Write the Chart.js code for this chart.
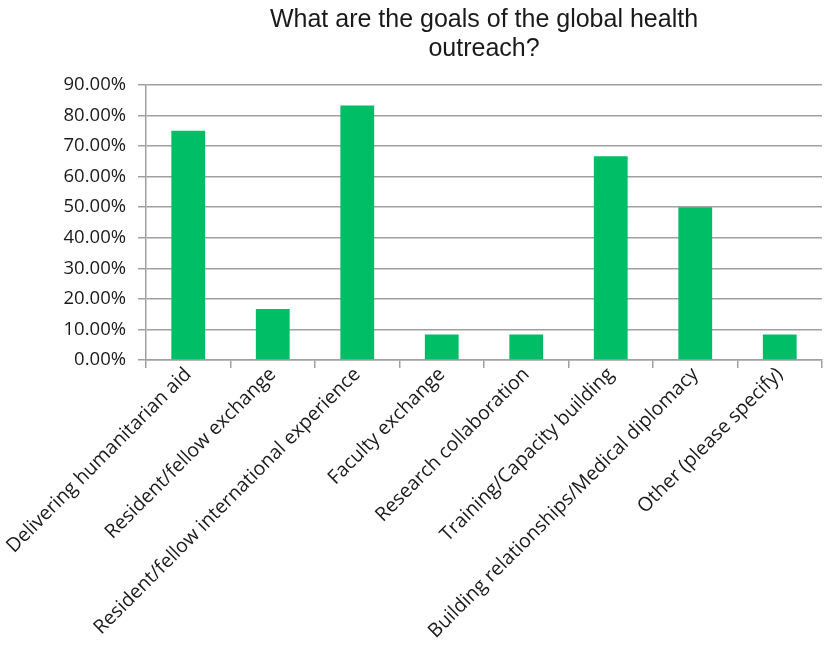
<!DOCTYPE html>
<html lang="en">
<head>
  <meta charset="UTF-8">
  <title>Global health outreach goals</title>
  <script src="https://cdn.jsdelivr.net/npm/chart.js"></script>
  <style>
    html, body { margin: 0; padding: 0; background: #fff; }
    #wrap { width: 827px; height: 651px; position: relative; }
  </style>
</head>
<body>
  <div id="wrap"><canvas id="goalsChart"></canvas></div>

  <script>
    const categories = [
      'Delivering humanitarian aid',
      'Resident/fellow exchange',
      'Resident/fellow international experience',
      'Faculty exchange',
      'Research collaboration',
      'Training/Capacity building',
      'Building relationships/Medical diplomacy',
      'Other (please specify)'
    ];
    const shares = [75.0, 16.67, 83.33, 8.33, 8.33, 66.67, 50.0, 8.33];
    const yTicks = [0, 10, 20, 30, 40, 50, 60, 70, 80, 90];
    const titleLines = ['What are the goals of the global health', 'outreach?'];

    const gridGray = '#a0a0a0';
    const labelFont = "'Open Sans', sans-serif";

    new Chart(document.getElementById('goalsChart').getContext('2d'), {
      type: 'bar',
      data: {
        labels: categories,
        datasets: [{
          data: shares,
          backgroundColor: '#00be66',
          borderWidth: 0,
          categoryPercentage: 1,
          barPercentage: 0.4
        }]
      },
      options: {
        responsive: true,
        maintainAspectRatio: false,
        animation: false,
        layout: { padding: { left: 0, right: 5, top: 0, bottom: 0 } },
        plugins: {
          legend: { display: false },
          tooltip: { enabled: false },
          title: {
            display: true,
            fullSize: false, // centre over the plot, like the original
            text: titleLines,
            color: '#1a1a1a',
            font: { family: "'Liberation Sans', Arial, sans-serif", size: 25, weight: 'normal', lineHeight: 1.18 },
            padding: { top: 5, bottom: 21 }
          }
        },
        scales: {
          x: {
            grid: { offset: true, drawOnChartArea: false, drawTicks: true, tickLength: 8, color: gridGray, lineWidth: 1.5 },
            border: { color: gridGray, width: 1.5 },
            ticks: {
              color: '#1a1a1a',
              font: { family: labelFont, size: 19.5 },
              minRotation: 45,
              maxRotation: 45,
              autoSkip: false,
              padding: -5
            },
            afterFit: s => { s.height = 291; }
          },
          y: {
            min: 0,
            max: 90,
            afterBuildTicks: s => { s.ticks = yTicks.map(v => ({ value: v })); },
            grid: { color: gridGray, lineWidth: 1.5, tickLength: 8 },
            border: { color: gridGray, width: 1.5 },
            ticks: {
              color: '#1a1a1a',
              font: { family: labelFont, size: 18.5 },
              padding: 12,
              callback: v => v.toFixed(2) + '%'
            },
            afterFit: s => { s.width = 146; }
          }
        }
      }
    });
  </script>
</body>
</html>
